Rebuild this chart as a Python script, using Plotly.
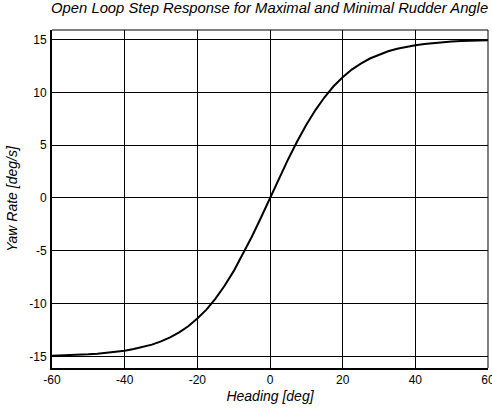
import plotly.graph_objects as go

heading = [-60, -57.5, -55, -52.5, -50, -47.5, -45, -42.5, -40, -37.5, -35, -32.5, -30,
           -27.5, -25, -22.5, -20, -17.5, -15, -12.5, -10, -7.5, -5, -2.5, 0,
           2.5, 5, 7.5, 10, 12.5, 15, 17.5, 20, 22.5, 25, 27.5, 30, 32.5, 35,
           37.5, 40, 42.5, 45, 47.5, 50, 52.5, 55, 57.5, 60]
yaw_rate = [-14.93, -14.91, -14.88, -14.85, -14.80, -14.74, -14.67, -14.58, -14.46, -14.31,
            -14.12, -13.89, -13.58, -13.20, -12.72, -12.15, -11.42, -10.57, -9.53, -8.32,
            -6.93, -5.37, -3.67, -1.87, 0.0,
            1.87, 3.67, 5.37, 6.93, 8.32, 9.53, 10.57, 11.42, 12.15, 12.72, 13.20, 13.58,
            13.89, 14.12, 14.31, 14.46, 14.58, 14.67, 14.74, 14.80, 14.85, 14.88, 14.91, 14.93]
x_ticks = [-60, -40, -20, 0, 20, 40, 60]
y_ticks = [-15, -10, -5, 0, 5, 10, 15]

font = "Liberation Sans, Arial, sans-serif"

fig = go.Figure()
fig.add_trace(go.Scatter(x=heading, y=yaw_rate, mode="lines",
                         line=dict(color="black", width=2), showlegend=False))

fig.update_layout(
    width=492, height=408,
    margin=dict(l=52, r=4, t=30, b=40),
    paper_bgcolor="white", plot_bgcolor="white",
    font=dict(family=font, size=12, color="black"),
    title=dict(text="<i>Open Loop Step Response for Maximal and Minimal Rudder Angle</i>",
               x=0.548, xanchor="center", y=0.98, yanchor="middle",
               font=dict(family=font, size=14.8, color="black")),
    shapes=[
        dict(type="line", xref="paper", yref="paper", x0=0, x1=1, y0=1, y1=1,
             line=dict(color="black", width=1)),
        dict(type="line", xref="paper", yref="paper", x0=1, x1=1, y0=0, y1=1,
             line=dict(color="black", width=1)),
    ],
)
fig.update_xaxes(range=[-60, 60], tickvals=x_ticks, ticktext=[str(v) for v in x_ticks],
                 showgrid=True, gridcolor="black", gridwidth=1, zeroline=False,
                 showline=True, linecolor="black", linewidth=2, automargin=False,
                 ticks="", tickfont=dict(size=12), ticklabeloverflow="allow",
                 title=dict(text="<i>Heading [deg]</i>", font=dict(size=14), standoff=5))
fig.update_yaxes(range=[-16.1, 15.9], tickvals=y_ticks, ticktext=[str(v) for v in y_ticks],
                 showgrid=True, gridcolor="black", gridwidth=1, zeroline=False,
                 showline=True, linecolor="black", linewidth=2, automargin=False,
                 ticks="", tickfont=dict(size=12), ticklabelstandoff=1,
                 title=dict(text="<i>Yaw Rate [deg/s]</i>", font=dict(size=14), standoff=8))

fig.write_html("out.html")
